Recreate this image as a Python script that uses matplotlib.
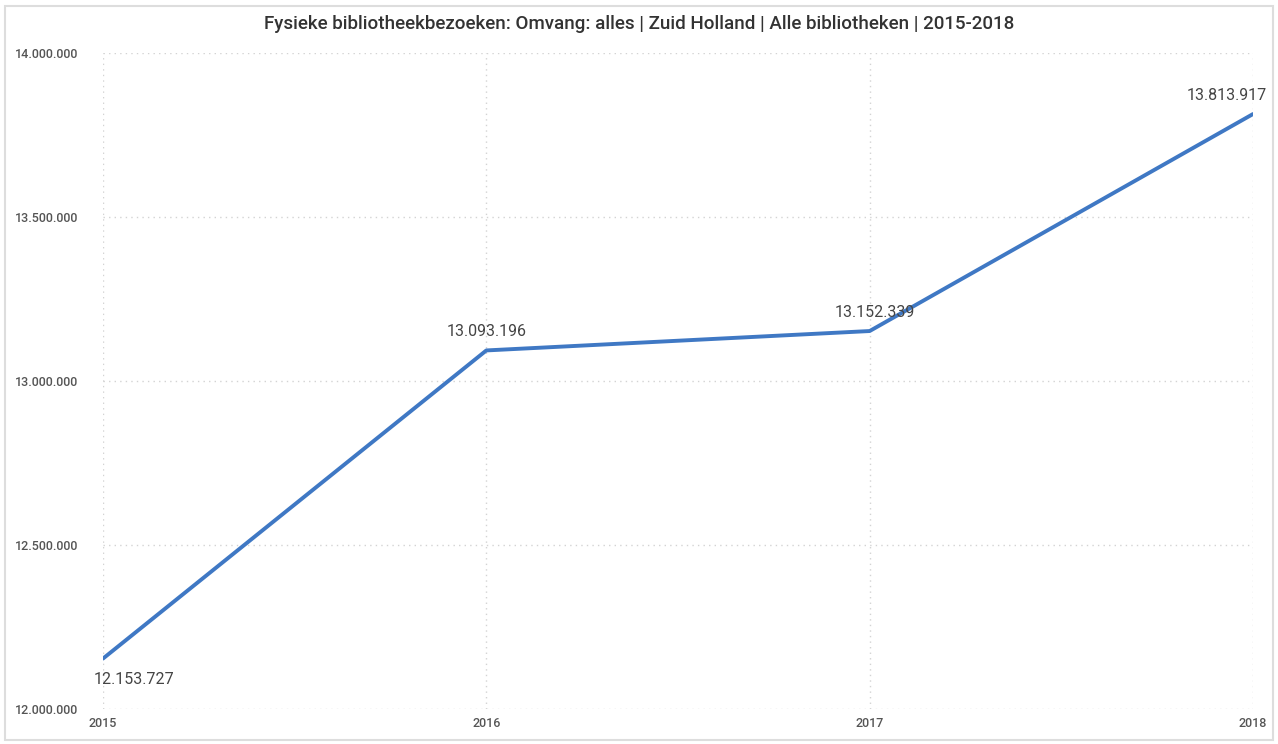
import matplotlib
matplotlib.use('Agg')
import matplotlib.pyplot as plt
from matplotlib.patches import Rectangle
from matplotlib.ticker import FuncFormatter

# data
years = [2015, 2016, 2017, 2018]
visits = [12153727, 13093196, 13152339, 13813917]
y_ticks = [12000000, 12500000, 13000000, 13500000, 14000000]

plt.rcParams['font.family'] = ['Roboto', 'DejaVu Sans']

def nl(v, pos=None):
    return f"{int(v):,}".replace(',', '.')

fig = plt.figure(figsize=(12.78, 7.44), dpi=100)
ax = fig.add_axes([103/1278, 1 - 709/744, (1253 - 103)/1278, (709 - 53)/744])

ax.plot(years, visits, color='#3f78c4', linewidth=2.8, solid_capstyle='round', zorder=3)

ax.set_xlim(years[0], years[-1])
ax.set_ylim(y_ticks[0], y_ticks[-1])
ax.set_xticks(years)
ax.set_yticks(y_ticks)
ax.yaxis.set_major_formatter(FuncFormatter(nl))
ax.grid(True, color='#d3d3d3', linestyle=(0, (1, 3)), linewidth=1)
for s in ax.spines.values():
    s.set_visible(False)
ax.tick_params(length=0, labelsize=9, colors='#555555')
ax.tick_params(axis='y', pad=18)
ax.tick_params(axis='x', pad=6)
for lbl in ax.get_xticklabels() + ax.get_yticklabels():
    lbl.set_fontweight('medium')

# data labels
offsets = [(-7, 'left', 'top'), (0, 'center', 'bottom'), (4, 'center', 'bottom'), (10, 'right', 'bottom')]
for (x, v), (dx, ha, va) in zip(zip(years, visits), offsets):
    dy = -10 if va == 'top' else 8
    ax.annotate(nl(v), (x, v), xytext=(dx, dy), textcoords='offset points',
                ha=ha, va=va, fontsize=11.5, color='#444444')

fig.text(0.5, 1 - 24/744, 'Fysieke bibliotheekbezoeken: Omvang: alles | Zuid Holland | Alle bibliotheken | 2015-2018',
         ha='center', va='center', fontsize=13.5, fontweight='medium', color='#333333')

fig.patches.append(Rectangle((5/1278, 4/744), 1268/1278, 734/744, transform=fig.transFigure,
                             fill=False, edgecolor='#dddddd', linewidth=1.5))

plt.savefig('out.png', dpi=100)
